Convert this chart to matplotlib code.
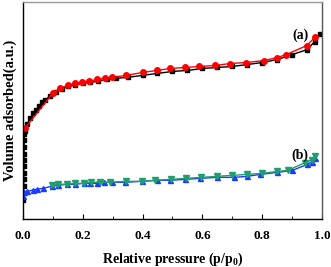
import numpy as np
import matplotlib
matplotlib.use('Agg')
import matplotlib.pyplot as plt
from matplotlib.ticker import MultipleLocator

# (a) adsorption - black squares
xa_ads = [0.002, 0.002, 0.003, 0.003, 0.003, 0.003, 0.004, 0.004, 0.004, 0.005, 0.005,
          0.008, 0.015, 0.025, 0.035, 0.045, 0.055, 0.065, 0.075, 0.09, 0.11, 0.13, 0.15,
          0.175, 0.2, 0.225, 0.25, 0.28, 0.31, 0.35, 0.4, 0.45, 0.5, 0.55, 0.6, 0.65,
          0.7, 0.75, 0.8, 0.85, 0.9, 0.95, 0.975, 0.993]
ya_ads = [19, 26, 33, 40, 46, 53, 60, 66, 73, 80, 86,
          89, 96, 102, 107, 110, 114, 118, 120, 124, 128, 131, 134,
          135, 137, 138, 139, 141, 142, 143, 145, 147, 149, 150, 152, 153,
          154, 156, 158, 161, 166, 171, 179, 187]

# (a) desorption - red circles
xa_des = [0.008, 0.1, 0.123, 0.15, 0.174, 0.198, 0.222, 0.247, 0.273, 0.298, 0.346, 0.4,
          0.448, 0.493, 0.543, 0.59, 0.643, 0.693, 0.747, 0.805, 0.85, 0.88, 0.948, 0.978]
ya_des = [92, 127, 132, 135, 137, 138, 139, 141, 142, 143, 145, 148,
          150, 152, 153, 154, 155, 157, 158, 160, 163, 166, 175, 184]

# (b) adsorption - blue up triangles
xb_ads = [0.002, 0.004, 0.013, 0.033, 0.047, 0.069, 0.097, 0.119, 0.147, 0.175, 0.203,
          0.225, 0.247, 0.27, 0.298, 0.342, 0.398, 0.448, 0.493, 0.543, 0.593, 0.649,
          0.705, 0.749, 0.794, 0.85, 0.9, 0.95, 0.967, 0.978]
yb_ads = [23, 27, 28, 29, 30, 31, 33, 34, 35, 35, 36,
          36, 36, 37, 37, 37, 38, 39, 39, 40, 41, 42,
          42, 43, 45, 47, 49, 55, 58, 62]

# (b) desorption - green down triangles
xb_des = [0.097, 0.119, 0.147, 0.175, 0.203, 0.227, 0.259, 0.292, 0.346, 0.398, 0.443,
          0.495, 0.545, 0.596, 0.649, 0.699, 0.749, 0.799, 0.85, 0.885, 0.944, 0.967, 0.978]
yb_des = [34, 35, 35, 36, 36, 37, 37, 37, 38, 38, 39,
          40, 41, 42, 43, 44, 45, 46, 48, 49, 57, 60, 64]

plt.rcParams['font.family'] = ['Liberation Serif', 'DejaVu Serif']
plt.rcParams['font.weight'] = 'bold'
plt.rcParams['mathtext.fontset'] = 'custom'
plt.rcParams['mathtext.rm'] = 'Liberation Serif:bold'
plt.rcParams['mathtext.bf'] = 'Liberation Serif:bold'

fig = plt.figure(figsize=(3.31, 2.67), dpi=100)
ax = fig.add_axes([0.069, 0.18, 0.904, 0.812])

ax.plot(xa_ads, ya_ads, color='black', marker='s', markersize=3.4, linewidth=1.0)
ax.plot(xa_des, ya_des, color='red', marker='o', markersize=4.0, linewidth=1.0)
ax.plot(xb_ads, yb_ads, color='#1a3cff', marker='^', markersize=3.6, linewidth=1.0)
ax.plot(xb_des, yb_des, color='#1f9e6e', marker='v', markersize=4.0, linewidth=1.0)

ax.text(0.927, 186, '(a)', fontsize=10, fontweight='bold', ha='center', va='center')
ax.text(0.925, 64, '(b)', fontsize=10, fontweight='bold', ha='center', va='center')

ax.set_xlim(0, 1.0)
ax.set_ylim(0, 219)
ax.xaxis.set_major_locator(MultipleLocator(0.2))
ax.xaxis.set_minor_locator(MultipleLocator(0.1))
ax.set_yticks([])
ax.tick_params(axis='x', which='both', direction='in', labelsize=9.5, pad=8)
ax.tick_params(axis='x', which='major', length=3.5)
ax.tick_params(axis='x', which='minor', length=2)
for lbl in ax.get_xticklabels():
    lbl.set_fontweight('bold')
for s in ax.spines.values():
    s.set_linewidth(1.0)
ax.spines['right'].set_color('#555555')
ax.spines['top'].set_color('#999999')

ax.set_xlabel('Relative pressure (p/p$_{\\mathbf{0}}$)', fontsize=10, fontweight='bold', labelpad=6)
ax.set_ylabel('Volume adsorbed(a.u.)', fontsize=10.5, fontweight='bold', labelpad=4)

fig.savefig('out.png', dpi=100)
